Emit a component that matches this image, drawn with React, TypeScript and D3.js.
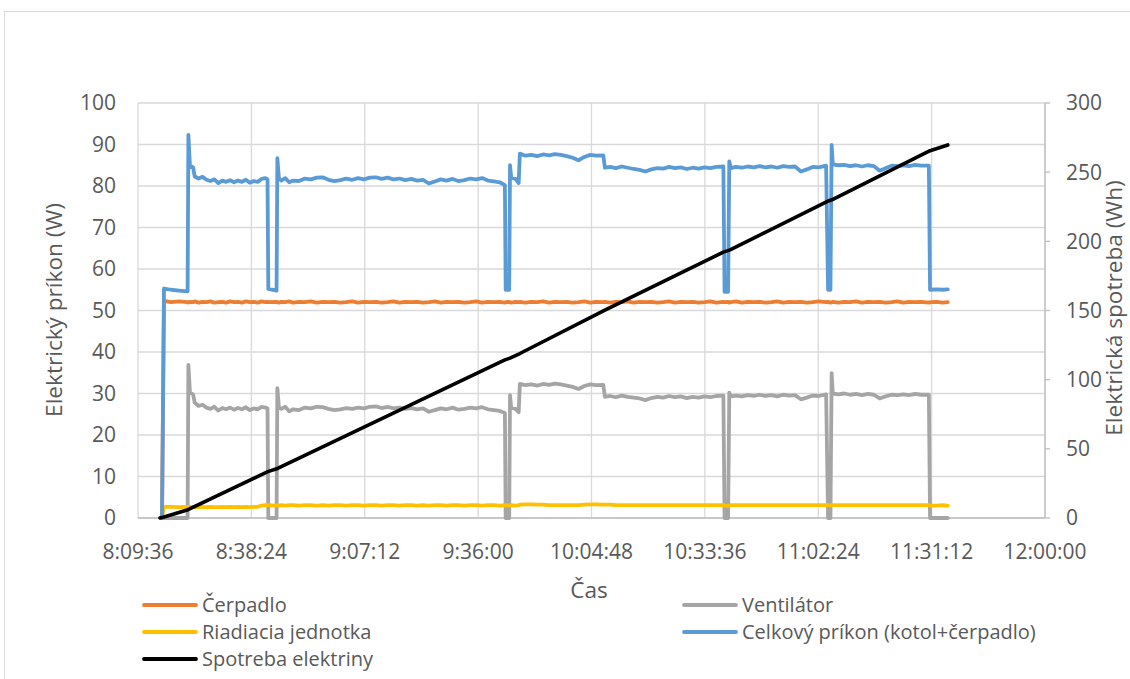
import React from "react";
import * as d3 from "d3";

// ---- Data (time = minutes after 8:00) ----
const TIME_MIN = [
  15.7, 16.2, 18.0, 20.0, 22.2, 22.4, 22.8, 23.6, 24.0, 25.0, 26.0, 27.0, 28.0, 29.0, 30.0, 31.0, 32.0, 33.0, 34.0, 35.0,
  36.0, 37.0, 38.0, 39.0, 40.0, 41.0, 42.0, 42.5, 42.7, 44.8, 45.0, 45.4, 46.0, 47.0, 48.0, 49.0, 50.5, 52.0, 53.5, 55.0,
  56.5, 58.0, 59.5, 61.0, 62.5, 64.0, 65.5, 67.0, 68.5, 70.0, 71.5, 73.0, 74.5, 76.0, 77.5, 79.0, 80.5, 82.0, 83.5, 85.0,
  86.5, 88.0, 89.5, 91.0, 92.5, 94.0, 95.5, 97.0, 98.5, 100.0, 101.5, 102.8, 103.0, 103.9, 104.1, 104.4, 105.5, 106.3, 106.6, 108.0,
  109.5, 111.0, 112.5, 114.0, 115.5, 117.0, 118.5, 120.0, 121.5, 123.0, 124.5, 126.0, 127.8, 128.2, 129.5, 131.0, 132.5, 134.0, 135.5, 137.0,
  138.5, 140.0, 141.5, 143.0, 144.5, 146.0, 147.5, 149.0, 150.5, 152.0, 153.5, 155.0, 156.5, 158.3, 158.6, 159.5, 159.8, 160.2, 161.5, 163.0,
  164.5, 166.0, 167.5, 169.0, 170.5, 172.0, 173.5, 175.0, 176.5, 178.0, 179.5, 181.0, 182.5, 184.4, 184.9, 185.5, 185.8, 186.1, 187.5, 189.0,
  190.5, 192.0, 193.5, 195.0, 196.5, 198.0, 199.5, 201.0, 202.5, 204.0, 205.5, 207.0, 208.5, 210.5, 210.8, 212.5, 214.0, 215.3,
];

const CERPADLO = [
  0, 52.3, 52.0, 52.2, 52.0, 51.9, 52.1, 52.0, 52.2, 51.9, 52.1, 52.0, 52.2, 51.9, 52.0, 52.1, 51.9, 52.2, 52.0, 52.1,
  51.9, 52.2, 52.0, 52.1, 51.9, 52.2, 52.0, 52.1, 52.0, 52.1, 52.0, 51.9, 52.1, 52.0, 52.2, 51.9, 52.1, 52.0, 52.2, 51.9,
  52.1, 52.0, 52.1, 51.9, 52.0, 52.2, 51.9, 52.1, 52.0, 52.1, 51.9, 52.0, 52.2, 51.9, 52.1, 52.0, 52.1, 51.9, 52.0, 52.2,
  51.9, 52.1, 52.0, 52.1, 51.9, 52.0, 52.2, 51.9, 52.1, 52.0, 52.1, 51.9, 52.0, 52.1, 52.0, 51.9, 52.1, 52.0, 52.1, 51.9,
  52.1, 52.0, 52.2, 51.9, 52.1, 52.0, 52.1, 51.9, 52.0, 52.2, 51.9, 52.1, 52.0, 52.1, 51.9, 52.1, 52.0, 52.2, 51.9, 52.1,
  52.0, 52.1, 51.9, 52.0, 52.2, 51.9, 52.1, 52.0, 52.1, 51.9, 52.0, 52.2, 51.9, 52.1, 52.0, 52.1, 51.9, 52.0, 52.2, 51.9,
  52.1, 52.0, 52.1, 51.9, 52.0, 52.2, 51.9, 52.1, 52.0, 52.1, 51.9, 52.0, 52.2, 52.0, 52.1, 51.9, 52.0, 52.1, 51.9, 52.1,
  52.0, 52.2, 51.9, 52.1, 52.0, 52.1, 51.9, 52.0, 52.2, 51.9, 52.1, 52.0, 52.1, 51.9, 52.0, 52.1, 51.9, 52.0,
];

const VENTILATOR = [
  0, 0, 0, 0, 0, 36.9, 30.2, 29.8, 27.8, 27.0, 27.3, 26.6, 26.3, 26.8, 25.9, 26.5, 26.2, 26.6, 26.1, 26.5,
  26.2, 26.7, 26.0, 26.4, 26.2, 26.8, 26.6, 26.4, 0, 0, 31.3, 26.6, 26.3, 26.8, 25.7, 26.2, 26.0, 26.6, 26.4, 26.8,
  26.7, 26.3, 26.0, 26.2, 26.5, 26.3, 26.6, 26.4, 26.8, 26.9, 26.5, 26.8, 26.4, 26.6, 26.3, 26.5, 26.2, 26.4, 25.6, 26.0,
  26.4, 26.2, 26.6, 26.1, 26.3, 26.6, 26.4, 26.7, 26.2, 26.0, 25.8, 25.3, 0, 0, 29.6, 26.6, 26.3, 25.5, 32.3, 32.0,
  32.2, 31.9, 32.3, 32.1, 32.4, 32.2, 31.9, 31.6, 31.1, 31.8, 32.2, 32.0, 32.1, 29.2, 29.4, 29.1, 29.5, 29.2, 29.0, 28.8,
  28.4, 28.9, 29.2, 29.0, 29.4, 29.1, 29.3, 28.9, 29.2, 29.0, 29.3, 29.1, 29.4, 29.5, 0, 0, 30.2, 29.3, 29.5, 29.3,
  29.6, 29.4, 29.7, 29.4, 29.6, 29.3, 29.7, 29.5, 29.6, 28.6, 29.0, 29.5, 29.4, 29.8, 0, 0, 34.9, 30.0, 29.8, 30.0,
  29.7, 29.9, 29.6, 29.9, 29.7, 28.8, 29.3, 29.7, 29.6, 29.8, 29.6, 29.9, 29.7, 29.7, 0, 0, 0, 0,
];

const RIADIACIA = [
  0, 2.7, 2.7, 2.6, 2.7, 2.6, 2.7, 2.6, 2.7, 2.6, 2.7, 2.6, 2.7, 2.6, 2.6, 2.7, 2.6, 2.7, 2.6, 2.7,
  2.6, 2.7, 2.6, 2.7, 2.7, 3.0, 3.1, 3.1, 3.1, 3.0, 3.1, 3.0, 3.1, 3.0, 3.1, 3.1, 3.0, 3.1, 3.1, 3.0,
  3.1, 3.0, 3.1, 3.1, 3.0, 3.1, 3.1, 3.0, 3.1, 3.1, 3.0, 3.1, 3.1, 3.0, 3.1, 3.1, 3.0, 3.1, 3.0, 3.1,
  3.1, 3.0, 3.1, 3.1, 3.0, 3.1, 3.1, 3.0, 3.1, 3.1, 3.0, 3.1, 3.1, 3.0, 3.1, 3.1, 3.0, 3.1, 3.2, 3.3,
  3.3, 3.2, 3.2, 3.1, 3.1, 3.1, 3.1, 3.1, 3.1, 3.2, 3.3, 3.3, 3.2, 3.2, 3.2, 3.1, 3.1, 3.1, 3.1, 3.1,
  3.1, 3.1, 3.1, 3.1, 3.1, 3.1, 3.1, 3.1, 3.1, 3.1, 3.1, 3.1, 3.1, 3.1, 3.0, 2.9, 3.0, 3.1, 3.1, 3.1,
  3.1, 3.1, 3.1, 3.1, 3.1, 3.1, 3.1, 3.1, 3.1, 3.1, 3.1, 3.1, 3.1, 3.1, 3.1, 3.0, 3.1, 3.1, 3.1, 3.1,
  3.1, 3.1, 3.1, 3.1, 3.1, 3.1, 3.1, 3.1, 3.1, 3.1, 3.1, 3.1, 3.1, 3.1, 3.0, 3.0, 3.1, 3.0,
];

const CELKOVY = [
  0, 55.3, 55.0, 54.8, 54.6, 92.3, 84.8, 84.5, 82.3, 81.8, 82.2, 81.5, 81.2, 81.6, 80.7, 81.3, 81.0, 81.4, 80.9, 81.3,
  81.0, 81.5, 80.8, 81.2, 81.0, 81.7, 81.9, 81.6, 55.2, 54.8, 86.7, 81.8, 81.3, 81.9, 80.9, 81.3, 81.2, 81.8, 81.6, 82.0,
  82.1, 81.5, 81.2, 81.4, 81.8, 81.5, 81.9, 81.6, 82.0, 82.1, 81.7, 82.0, 81.6, 81.8, 81.4, 81.7, 81.3, 81.5, 80.6, 81.1,
  81.6, 81.3, 81.7, 81.2, 81.4, 81.8, 81.6, 81.9, 81.3, 81.1, 80.9, 80.2, 55.0, 55.0, 85.0, 82.0, 81.7, 80.7, 87.8, 87.3,
  87.5, 87.2, 87.6, 87.4, 87.7, 87.5, 87.2, 86.8, 86.2, 87.0, 87.5, 87.3, 87.4, 84.4, 84.6, 84.3, 84.7, 84.4, 84.1, 83.9,
  83.5, 84.0, 84.3, 84.2, 84.6, 84.3, 84.5, 84.1, 84.4, 84.2, 84.5, 84.3, 84.6, 84.7, 54.5, 54.5, 85.9, 84.3, 84.6, 84.4,
  84.7, 84.5, 84.8, 84.5, 84.7, 84.4, 84.8, 84.6, 84.7, 83.5, 84.0, 84.6, 84.5, 84.9, 55.0, 55.0, 89.9, 85.2, 85.0, 85.1,
  84.8, 85.0, 84.7, 85.0, 84.8, 83.7, 84.3, 84.9, 84.8, 85.0, 84.8, 85.1, 84.9, 84.9, 55.0, 55.1, 55.0, 55.1,
];

const SPOTREBA_TIME = [15.2, 16.2, 22.3, 42.6, 45.2, 102.8, 104.1, 106.6, 128.2, 158.3, 160.0, 185.0, 186.0, 210.8, 215.3];
const SPOTREBA = [0, 0.8, 6.0, 33.5, 36.0, 114.3, 115.6, 118.9, 150.3, 192.2, 193.8, 229.2, 230.2, 265.5, 269.7];

const X_TICKS = ["8:09:36", "8:38:24", "9:07:12", "9:36:00", "10:04:48", "10:33:36", "11:02:24", "11:31:12", "12:00:00"];
const Y_LEFT_TICKS = [0, 10, 20, 30, 40, 50, 60, 70, 80, 90, 100];
const Y_RIGHT_TICKS = [0, 50, 100, 150, 200, 250, 300];

const SERIES = [
  { name: "Čerpadlo", values: CERPADLO, color: "#ED7D31" },
  { name: "Ventilátor", values: VENTILATOR, color: "#A5A5A5" },
  { name: "Riadiacia jednotka", values: RIADIACIA, color: "#FFC000" },
  { name: "Celkový príkon (kotol+čerpadlo)", values: CELKOVY, color: "#5B9BD5" },
];

const toMin = (s: string) => {
  const [h, m, sec] = s.split(":").map(Number);
  return (h - 8) * 60 + m + sec / 60;
};

const W = 1130;
const H = 679;
const M = { left: 138, right: 1045, top: 103, bottom: 518 };
const FONT = "'Open Sans', sans-serif";
const TXT = "#595959";
const FS = 21;
const FL = 20;
const FT = 22.6;

export default function App() {
  const x = d3.scaleLinear().domain([toMin(X_TICKS[0]), toMin(X_TICKS[X_TICKS.length - 1])]).range([M.left, M.right]);
  const yL = d3.scaleLinear().domain([0, 100]).range([M.bottom, M.top]);
  const yR = d3.scaleLinear().domain([0, 300]).range([M.bottom, M.top]);

  const linePow = (vals: number[]) =>
    d3
      .line<number>()
      .x((_, i) => x(TIME_MIN[i]))
      .y((v) => yL(v))(vals) || "";
  const lineWh =
    d3
      .line<number>()
      .x((_, i) => x(SPOTREBA_TIME[i]))
      .y((v) => yR(v))(SPOTREBA) || "";

  const legend = [
    { name: "Čerpadlo", color: "#ED7D31", lx: 144, ly: 605 },
    { name: "Ventilátor", color: "#A5A5A5", lx: 684, ly: 605 },
    { name: "Riadiacia jednotka", color: "#FFC000", lx: 144, ly: 632 },
    { name: "Celkový príkon (kotol+čerpadlo)", color: "#5B9BD5", lx: 684, ly: 632 },
    { name: "Spotreba elektriny", color: "#000000", lx: 144, ly: 659 },
  ];

  return (
    <div style={{ position: "absolute", left: 0, top: 0 }}>
      <svg width={W} height={H} style={{ display: "block", background: "#fff" }} fontFamily={FONT}>
        <rect x={4.5} y={11.5} width={1200} height={800} fill="#fff" stroke="#d9d9d9" strokeWidth={1} />
        {/* gridlines */}
        {Y_LEFT_TICKS.map((t) => (
          <line key={"gy" + t} x1={M.left} x2={M.right} y1={yL(t)} y2={yL(t)} stroke="#d9d9d9" strokeWidth={1.3} />
        ))}
        {X_TICKS.map((t) => (
          <line key={"gx" + t} x1={x(toMin(t))} x2={x(toMin(t))} y1={M.top} y2={M.bottom} stroke="#d9d9d9" strokeWidth={1.3} />
        ))}
        {/* axes */}
        <line x1={M.left} x2={M.right} y1={M.bottom} y2={M.bottom} stroke="#bfbfbf" strokeWidth={1.3} />
        <line x1={M.right} x2={M.right} y1={M.top} y2={M.bottom} stroke="#bfbfbf" strokeWidth={1.3} />
        {Y_RIGHT_TICKS.map((t) => (
          <line key={"rt" + t} x1={M.right} x2={M.right + 5} y1={yR(t)} y2={yR(t)} stroke="#bfbfbf" strokeWidth={1.3} />
        ))}
        {/* tick labels */}
        {Y_LEFT_TICKS.map((t) => (
          <text key={"yl" + t} x={116} y={yL(t)} dy="0.35em" textAnchor="end" fontSize={FS} fill={TXT}>
            {t}
          </text>
        ))}
        {Y_RIGHT_TICKS.map((t) => (
          <text key={"yr" + t} x={1066} y={yR(t)} dy="0.35em" textAnchor="start" fontSize={FS} fill={TXT}>
            {t}
          </text>
        ))}
        {X_TICKS.map((t) => (
          <text key={"xl" + t} x={x(toMin(t))} y={552} dy="0.35em" textAnchor="middle" fontSize={FS} fill={TXT}>
            {t}
          </text>
        ))}
        {/* axis titles */}
        <text x={589} y={590} dy="0.35em" textAnchor="middle" fontSize={FT} fill={TXT}>
          Čas
        </text>
        <text transform="translate(54,310) rotate(-90)" dy="0.35em" textAnchor="middle" fontSize={FT} fill={TXT}>
          Elektrický príkon (W)
        </text>
        <text transform="translate(1114,308) rotate(-90)" dy="0.35em" textAnchor="middle" fontSize={FT} fill={TXT}>
          Elektrická spotreba (Wh)
        </text>
        {/* series */}
        {SERIES.map((s) => (
          <path key={s.name} d={linePow(s.values)} fill="none" stroke={s.color} strokeWidth={3.8} strokeLinejoin="round" strokeLinecap="round" />
        ))}
        <path d={lineWh} fill="none" stroke="#000" strokeWidth={3.6} strokeLinejoin="round" strokeLinecap="round" />
        {/* legend */}
        {legend.map((l) => (
          <g key={l.name}>
            <line x1={l.lx} x2={l.lx + 52} y1={l.ly} y2={l.ly} stroke={l.color} strokeWidth={3.8} strokeLinecap="round" />
            <text x={l.lx + 58} y={l.ly} dy="0.35em" fontSize={FL} fill={TXT}>
              {l.name}
            </text>
          </g>
        ))}
      </svg>
    </div>
  );
}
